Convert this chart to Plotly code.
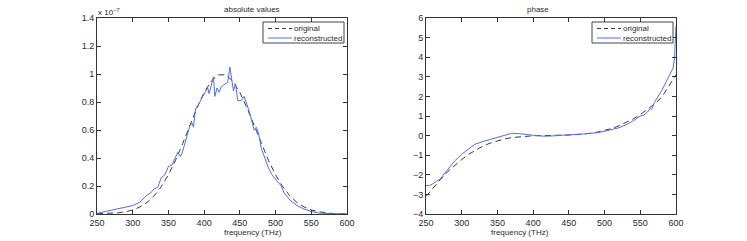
import plotly.graph_objects as go

# ---- data ----
freq_orig = [250, 260, 270, 280, 290, 300, 310, 320, 330, 340, 350, 360, 370, 380, 390, 400,
             410, 420, 430, 440, 450, 460, 470, 480, 490, 500, 510, 520, 530, 540, 550, 560,
             570, 580, 590, 600]
abs_orig = [0.001, 0.002, 0.004, 0.009, 0.016, 0.029, 0.050, 0.082, 0.130, 0.195, 0.280, 0.384,
            0.504, 0.632, 0.758, 0.868, 0.950, 0.994, 0.994, 0.950, 0.868, 0.758, 0.632, 0.504,
            0.384, 0.280, 0.195, 0.130, 0.082, 0.050, 0.029, 0.016, 0.009, 0.004, 0.002, 0.001]

freq_rec = [250, 260, 270, 280, 290, 300, 310, 315, 320, 325, 330, 335, 340, 345, 350, 355,
            360, 363, 367, 370, 375, 380, 383, 385, 388, 393, 398, 403, 405, 407, 410, 413,
            415, 418, 421, 424, 427, 430, 433, 436, 438, 441, 444, 447, 452, 456, 460, 465,
            470, 473, 476, 480, 485, 490, 495, 500, 505, 508, 512, 520, 530, 540, 550, 560,
            570, 580, 590, 600]
abs_rec = [0.005, 0.015, 0.025, 0.035, 0.045, 0.060, 0.085, 0.110, 0.135, 0.150, 0.180, 0.190,
           0.260, 0.280, 0.340, 0.350, 0.400, 0.440, 0.410, 0.450, 0.540, 0.630, 0.650, 0.620,
           0.750, 0.790, 0.840, 0.880, 0.900, 0.860, 0.920, 0.980, 0.840, 0.900, 0.870, 0.910,
           0.920, 0.930, 0.940, 1.050, 0.980, 0.880, 0.930, 0.810, 0.810, 0.840, 0.780, 0.700,
           0.600, 0.620, 0.580, 0.470, 0.400, 0.330, 0.280, 0.250, 0.220, 0.200, 0.150, 0.100,
           0.060, 0.035, 0.018, 0.008, 0.004, 0.002, 0.001, 0.000]

freq_ph_orig = [250, 260, 270, 280, 290, 300, 310, 320, 330, 340, 350, 360, 370, 380, 390, 400,
                410, 420, 430, 440, 450, 460, 470, 480, 490, 500, 510, 520, 530, 540, 550, 560,
                570, 580, 590, 600]
phase_orig = [-3.10, -2.65, -2.25, -1.85, -1.52, -1.22, -0.95, -0.72, -0.53, -0.38, -0.26, -0.17,
              -0.10, -0.06, -0.03, -0.01, 0.00, 0.00, 0.01, 0.02, 0.03, 0.05, 0.08, 0.12,
              0.18, 0.26, 0.36, 0.50, 0.66, 0.85, 1.07, 1.33, 1.62, 1.95, 2.50, 3.10]

freq_ph_rec = [250, 255, 260, 270, 280, 290, 300, 310, 318, 330, 340, 350, 360, 370, 380, 390,
               400, 410, 420, 430, 440, 450, 460, 470, 480, 490, 500, 510, 520, 530, 540, 550,
               555, 560, 563, 566, 570, 580, 590, 596, 598, 600]
phase_rec = [-2.55, -2.55, -2.45, -2.20, -1.75, -1.30, -0.95, -0.65, -0.45, -0.30, -0.20, -0.08,
             0.02, 0.12, 0.10, 0.05, 0.00, -0.02, -0.03, 0.00, 0.03, 0.05, 0.06, 0.08, 0.10,
             0.15, 0.22, 0.32, 0.40, 0.55, 0.75, 1.00, 1.05, 1.20, 1.35, 1.35, 1.70, 2.30, 3.00,
             3.45, 4.00, 5.60]

x_ticks = [250, 300, 350, 400, 450, 500, 550, 600]
abs_ticks = [0, 0.2, 0.4, 0.6, 0.8, 1, 1.2, 1.4]
abs_ticktext = ["0", "0.2", "0.4", "0.6", "0.8", "1", "1.2", "1.4"]
phase_ticks = [-4, -3, -2, -1, 0, 1, 2, 3, 4, 5, 6]
phase_ticktext = ["−4", "−3", "−2", "−1", "0", "1", "2", "3", "4", "5", "6"]
legend_labels = ["original", "reconstructed"]

# ---- layout geometry (reference pixels) ----
W, H = 747, 241
L1, R1, L2, R2 = 97, 347, 426, 676
TOP, BOT = 18, 214

DASH_COLOR = "#3a3a3a"
BLUE = "#4f6ef7"
TXT = "#2a2a2a"
FONT = "Liberation Sans, Arial, sans-serif"
DASH = "6px,4px"

fig = go.Figure()
fig.add_trace(go.Scatter(x=freq_orig, y=abs_orig, mode="lines", name=legend_labels[0],
                         line=dict(color=DASH_COLOR, width=1, dash=DASH),
                         xaxis="x", yaxis="y"))
fig.add_trace(go.Scatter(x=freq_rec, y=abs_rec, mode="lines", name=legend_labels[1],
                         line=dict(color=BLUE, width=1),
                         xaxis="x", yaxis="y"))
fig.add_trace(go.Scatter(x=freq_ph_orig, y=phase_orig, mode="lines", name=legend_labels[0],
                         line=dict(color=DASH_COLOR, width=1, dash=DASH),
                         xaxis="x2", yaxis="y2"))
fig.add_trace(go.Scatter(x=freq_ph_rec, y=phase_rec, mode="lines", name=legend_labels[1],
                         line=dict(color=BLUE, width=1),
                         xaxis="x2", yaxis="y2"))

ax_common = dict(showgrid=False, zeroline=False, showline=True, linecolor="#333333",
                 linewidth=1, mirror="ticks", ticks="inside", ticklen=4,
                 tickcolor="#333333", automargin=False,
                 tickfont=dict(size=9, color=TXT, family=FONT))

def px(x):
    return x / W

def py(y):
    return (H - y) / H

y_dom = [py(BOT), py(TOP)]

shapes = []
annotations = []

# manual legends (one per panel), MATLAB style
for right in (R1 - 3, R2 - 3):
    left = right - 81
    top, bot = 22, 43
    shapes.append(dict(type="rect", xref="paper", yref="paper",
                       x0=px(left), x1=px(right), y0=py(bot), y1=py(top),
                       line=dict(color="#444444", width=1), fillcolor="white", layer="above"))
    rows = [28.5, 38]
    styles = [dict(color=DASH_COLOR, width=1, dash="4px,3px"), dict(color=BLUE, width=1)]
    for label, yy, st in zip(legend_labels, rows, styles):
        shapes.append(dict(type="line", xref="paper", yref="paper",
                           x0=px(left + 5), x1=px(left + 29), y0=py(yy), y1=py(yy),
                           line=st, layer="above"))
        annotations.append(dict(text=label, x=px(left + 29), y=py(yy), xanchor="left",
                                yanchor="middle", xref="paper", yref="paper",
                                showarrow=False, font=dict(size=8, family=FONT, color=TXT)))

annotations += [
    dict(text="absolute values", x=px((L1 + R1) / 2), y=py(10), yanchor="middle",
         xref="paper", yref="paper", showarrow=False, font=dict(size=8, family=FONT, color=TXT)),
    dict(text="phase", x=px((L2 + R2) / 2), y=py(10), yanchor="middle",
         xref="paper", yref="paper", showarrow=False, font=dict(size=8, family=FONT, color=TXT)),
    dict(text="x 10<sup>−7</sup>", x=px(L1 - 1), y=py(12), xanchor="left", yanchor="middle",
         xref="paper", yref="paper", showarrow=False, font=dict(size=8, family=FONT, color=TXT)),
    dict(text="frequency (THz)", x=px((L1 + R1) / 2), y=py(232), yanchor="middle",
         xref="paper", yref="paper", showarrow=False, font=dict(size=8, family=FONT, color=TXT)),
    dict(text="frequency (THz)", x=px((L2 + R2) / 2), y=py(232), yanchor="middle",
         xref="paper", yref="paper", showarrow=False, font=dict(size=8, family=FONT, color=TXT)),
]

fig.update_layout(
    width=W, height=H,
    margin=dict(l=0, r=0, t=0, b=0),
    paper_bgcolor="white", plot_bgcolor="white",
    showlegend=False,
    font=dict(family=FONT, size=9, color=TXT),
    xaxis=dict(domain=[px(L1), px(R1)], range=[250, 600], tickvals=x_ticks,
               anchor="y", **ax_common),
    yaxis=dict(domain=y_dom, range=[0, 1.4], tickvals=abs_ticks, ticktext=abs_ticktext,
               anchor="x", **ax_common),
    xaxis2=dict(domain=[px(L2), px(R2)], range=[250, 600], tickvals=x_ticks,
                anchor="y2", **ax_common),
    yaxis2=dict(domain=y_dom, range=[-4, 6], tickvals=phase_ticks, ticktext=phase_ticktext,
                anchor="x2", **ax_common),
    shapes=shapes,
    annotations=annotations,
)

fig.write_html("out.html",
               config={"displayModeBar": False},
               post_script="document.body.style.margin='0';"
                           "document.body.style.overflow='hidden';")
